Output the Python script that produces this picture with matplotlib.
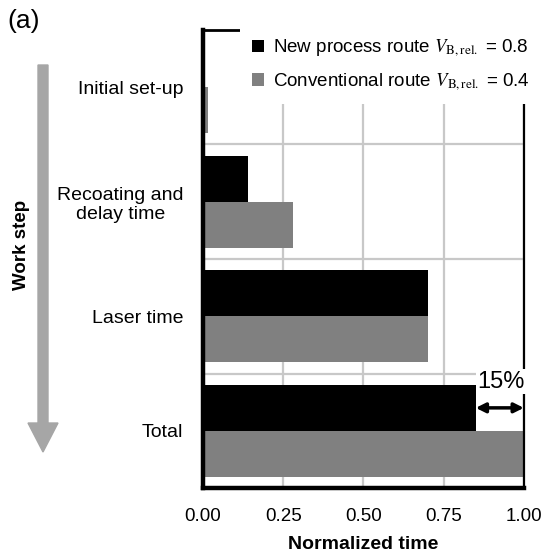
import numpy as np
import matplotlib
matplotlib.use("Agg")
import matplotlib.pyplot as plt
from matplotlib.patches import Patch, Rectangle, FancyArrow

plt.rcParams['font.family'] = ['Liberation Sans', 'DejaVu Sans']
plt.rcParams['mathtext.fontset'] = 'stix'

# data
steps = ['Initial set-up', 'Recoating and\ndelay time', 'Laser time', 'Total']
new_route = [0.005, 0.14, 0.70, 0.85]
conv_route = [0.015, 0.28, 0.70, 1.00]
xticks = [0.0, 0.25, 0.5, 0.75, 1.0]
xticklabels = ['0.00', '0.25', '0.50', '0.75', '1.00']
lab_new = r'New process route $\mathit{V}_{\mathrm{B,rel.}}$ = 0.8'
lab_conv = r'Conventional route $\mathit{V}_{\mathrm{B,rel.}}$ = 0.4'

black = '#000000'
grey = '#808080'
gridc = '#c8c8c8'

fig = plt.figure(figsize=(5.44, 5.53), dpi=100)
ax = fig.add_axes([0.373, 0.1175, 0.590, 0.8283])

pos = np.arange(len(steps))[::-1]
h = 0.4
ax.barh(pos + h/2, new_route, height=h, color=black, zorder=3)
ax.barh(pos - h/2, conv_route, height=h, color=grey, zorder=3)

ax.set_xlim(0, 1)
ax.set_ylim(-0.5, len(steps) - 0.5)
ax.set_xticks(xticks)
ax.set_xticklabels(xticklabels, fontsize=13.5)
ax.set_yticks(pos)
ax.set_yticklabels(steps, fontsize=14, multialignment='center')
ax.set_yticks(pos[:-1] - 0.5, minor=True)
ax.tick_params(axis='both', which='both', length=0)
ax.tick_params(axis='x', pad=14.5)
ax.tick_params(axis='y', pad=14)

# grid: vertical at inner x ticks, horizontal between the groups
ax.xaxis.grid(True, which='major', color=gridc, lw=1.6, zorder=0)
ax.yaxis.grid(True, which='minor', color=gridc, lw=1.6, zorder=0)
ax.set_axisbelow(True)

for s, w in [('left', 3.2), ('bottom', 3.2), ('right', 1.6), ('top', 2.0)]:
    ax.spines[s].set_linewidth(w)
    ax.spines[s].set_color('black')
    ax.spines[s].set_zorder(4)

ax.set_xlabel('Normalized time', fontsize=14, fontweight='bold', labelpad=8)

# 15 % difference arrow on the total bars
tot_new = new_route[-1]
tot_conv = conv_route[-1]
ax.annotate('', xy=(tot_new, pos[-1] + h/2), xytext=(tot_conv, pos[-1] + h/2),
            arrowprops=dict(arrowstyle='<|-|>', color='black', lw=2.5,
                            mutation_scale=14, shrinkA=0, shrinkB=0),
            zorder=5)
ax.text((tot_new + tot_conv) / 2 + 0.005, pos[-1] + 0.43,
        '%d%%' % round((tot_conv - tot_new) * 100),
        fontsize=17, ha='center', va='center', zorder=5,
        bbox=dict(facecolor='white', edgecolor='none', pad=1))

# white area behind legend that hides the top right frame
fig.patches.append(Rectangle((240/544, 1 - 104/553), 304/544, 82/553,
                             transform=fig.transFigure, facecolor='white',
                             edgecolor='none', zorder=3))
handles = [Patch(facecolor=black), Patch(facecolor=grey)]
fig.legend(handles, [lab_new, lab_conv], loc='upper left',
           bbox_to_anchor=(252/544, 1 - 38/553), frameon=False,
           fontsize=13.5, handlelength=0.65, handleheight=0.65,
           handletextpad=0.45, labelspacing=0.65, borderpad=0, borderaxespad=0)

# work step arrow on the left
fig.patches.append(FancyArrow(0.43, 4.88, 0, -3.87, width=0.10,
                              head_width=0.30, head_length=0.29,
                              length_includes_head=True, color='#a6a6a6',
                              transform=fig.dpi_scale_trans))
fig.text(22/544, 1 - 245/553, 'Work step', rotation=90, fontsize=13.5,
         fontweight='bold', ha='center', va='center')
fig.text(7/544, 1 - 21/553, '(a)', fontsize=19, ha='left', va='center')

fig.savefig('out.png', dpi=100)
